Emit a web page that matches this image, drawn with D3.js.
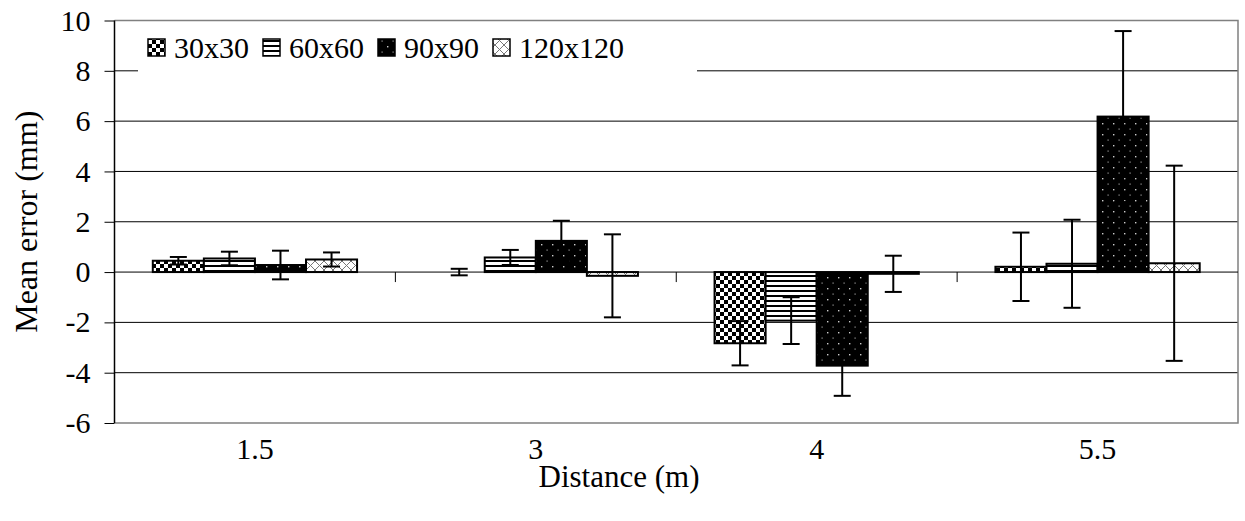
<!DOCTYPE html>
<html><head><meta charset="utf-8">
<script src="https://cdn.jsdelivr.net/npm/d3@7"></script>
<style>html,body{margin:0;padding:0;background:#fff;}svg{display:block;} text{font-family:"Liberation Serif","Times New Roman",serif;}</style>
</head><body><svg id="c" width="1245" height="521"></svg>
<script>
const categories = ["1.5", "3", "4", "5.5"];
const seriesNames = ["30x30", "60x60", "90x90", "120x120"];
const values30 = [0.45, 0.0, -2.83, 0.21];
const values60 = [0.54, 0.58, -1.93, 0.33];
const values90 = [0.28, 1.24, -3.72, 6.18];
const values120 = [0.50, -0.15, -0.07, 0.35];
const err30 = [0.15, 0.13, 0.88, 1.36];
const err60 = [0.27, 0.30, 0.93, 1.75];
const err90 = [0.57, 0.80, 1.20, 3.40];
const err120 = [0.28, 1.65, 0.72, 3.88];
const yTicks = [-6, -4, -2, 0, 2, 4, 6, 8, 10];
const xTitle = "Distance (m)";
const yTitle = "Mean error (mm)";

const series = [
  {name: seriesNames[0], values: values30, errs: err30, fill: "url(#pChecker)"},
  {name: seriesNames[1], values: values60, errs: err60, fill: "url(#pLines)"},
  {name: seriesNames[2], values: values90, errs: err90, fill: "url(#pDots)"},
  {name: seriesNames[3], values: values120, errs: err120, fill: "url(#pCross)"}
];

const svg = d3.select("#c");
const font = "Liberation Serif";
const fs = 30;
const L = 114.5, R = 1238, T = 20.5, B = 423;

const y = d3.scaleLinear().domain([-6, 10]).range([B, T]);
const x = d3.scaleBand().domain(categories).range([L, R]).paddingInner(0).paddingOuter(0);
const bw = x.bandwidth() / 5.5;
const inner = d3.scaleBand().domain(seriesNames).range([0.75 * bw, 4.75 * bw]);

// patterns
const defs = svg.append("defs");
const pc = defs.append("pattern").attr("id", "pChecker").attr("patternUnits", "userSpaceOnUse").attr("width", 8).attr("height", 8);
pc.append("rect").attr("width", 8).attr("height", 8).attr("fill", "#fff");
pc.append("rect").attr("width", 4).attr("height", 4).attr("fill", "#000");
pc.append("rect").attr("x", 4).attr("y", 4).attr("width", 4).attr("height", 4).attr("fill", "#000");
const pl = defs.append("pattern").attr("id", "pLines").attr("patternUnits", "userSpaceOnUse").attr("width", 8).attr("height", 5);
pl.append("rect").attr("width", 8).attr("height", 5).attr("fill", "#fff");
pl.append("rect").attr("width", 8).attr("height", 2).attr("fill", "#000");
const pd = defs.append("pattern").attr("id", "pDots").attr("patternUnits", "userSpaceOnUse").attr("width", 11).attr("height", 11);
pd.append("rect").attr("width", 11).attr("height", 11).attr("fill", "#000");
pd.append("rect").attr("x", 2).attr("y", 2).attr("width", 1.4).attr("height", 1.4).attr("fill", "#ccc");
pd.append("rect").attr("x", 7.5).attr("y", 7.5).attr("width", 1.2).attr("height", 1.2).attr("fill", "#999");
const px = defs.append("pattern").attr("id", "pCross").attr("patternUnits", "userSpaceOnUse").attr("width", 9).attr("height", 9);
px.append("rect").attr("width", 9).attr("height", 9).attr("fill", "#fff");
px.append("path").attr("d", "M0,0L9,9M9,0L0,9").attr("stroke", "#777").attr("stroke-width", 1);

// gridlines
svg.append("g").selectAll("line").data(yTicks.filter(t => t !== -6 && t !== 10 && t !== 0)).join("line")
  .attr("x1", L).attr("x2", R).attr("y1", d => y(d)).attr("y2", d => y(d))
  .attr("stroke", "#000").attr("stroke-width", 1);
// plot border (gray) top, right, bottom
svg.append("path").attr("d", `M${L},${y(10)}H${R}V${y(-6)}H${L}`).attr("fill", "none").attr("stroke", "#808080").attr("stroke-width", 1.5);

// legend background
const lg = svg.append("g");
const lgBg = lg.append("rect").attr("fill", "#fff");

// bars
const gBars = svg.append("g");
series.forEach(s => {
  categories.forEach((c, i) => {
    const v = s.values[i];
    const x0 = x(c) + inner(s.name);
    gBars.append("rect")
      .attr("x", x0).attr("width", inner.bandwidth())
      .attr("y", Math.min(y(v), y(0))).attr("height", Math.abs(y(v) - y(0)))
      .attr("fill", s.fill).attr("stroke", "#000").attr("stroke-width", 2);
  });
});

// zero axis with ticks
const ax0 = svg.append("g");
ax0.append("line").attr("x1", L).attr("x2", R).attr("y1", y(0)).attr("y2", y(0)).attr("stroke", "#000").attr("stroke-width", 1);
ax0.selectAll("line.tk").data(categories.slice(1)).join("line").attr("class", "tk")
  .attr("x1", d => x(d)).attr("x2", d => x(d)).attr("y1", y(0)).attr("y2", y(0) + 10)
  .attr("stroke", "#000").attr("stroke-width", 1);

// error bars
const gErr = svg.append("g").attr("stroke", "#000").attr("stroke-width", 2);
series.forEach(s => {
  categories.forEach((c, i) => {
    const v = s.values[i], e = s.errs[i];
    const cx = x(c) + inner(s.name) + inner.bandwidth() / 2;
    gErr.append("line").attr("x1", cx).attr("x2", cx).attr("y1", y(v + e)).attr("y2", y(v - e));
    gErr.append("line").attr("x1", cx - 8.5).attr("x2", cx + 8.5).attr("y1", y(v + e)).attr("y2", y(v + e));
    gErr.append("line").attr("x1", cx - 8.5).attr("x2", cx + 8.5).attr("y1", y(v - e)).attr("y2", y(v - e));
  });
});

// y axis
const yAxis = svg.append("g").attr("transform", `translate(${L},0)`)
  .call(d3.axisLeft(y).tickValues(yTicks).tickSize(10).tickPadding(14).tickFormat(d => String(d)));
yAxis.select(".domain").attr("stroke", "#000").attr("stroke-width", 1.5).attr("d", `M0,${y(10)}V${y(-6)}`);
yAxis.selectAll(".tick line").attr("stroke", "#000");
yAxis.selectAll("text").attr("font-family", font).attr("font-size", fs).attr("fill", "#000");

// x category labels
svg.append("g").selectAll("text").data(categories).join("text")
  .attr("x", d => x(d) + x.bandwidth() / 2).attr("y", 459)
  .attr("text-anchor", "middle").attr("font-family", font).attr("font-size", fs).text(d => d);

// titles
svg.append("text").attr("x", 619).attr("y", 487).attr("text-anchor", "middle")
  .attr("font-family", font).attr("font-size", 31).text(xTitle);
svg.append("text").attr("transform", `translate(37,${(T + B) / 2}) rotate(-90)`).attr("text-anchor", "middle")
  .attr("font-family", font).attr("font-size", 32).text(yTitle);

// legend items
let lx = 148;
const sw = 17;
series.forEach(s => {
  lg.append("rect").attr("x", lx).attr("y", 39).attr("width", sw).attr("height", sw)
    .attr("fill", s.fill).attr("stroke", "#000").attr("stroke-width", 1.5);
  const t = lg.append("text").attr("x", lx + sw + 9).attr("y", 58)
    .attr("font-family", font).attr("font-size", fs).text(s.name);
  lx += sw + 9 + t.node().getComputedTextLength() + 14;
});
lgBg.attr("x", 138).attr("y", 22).attr("width", 697 - 138).attr("height", 50);
</script></body></html>
